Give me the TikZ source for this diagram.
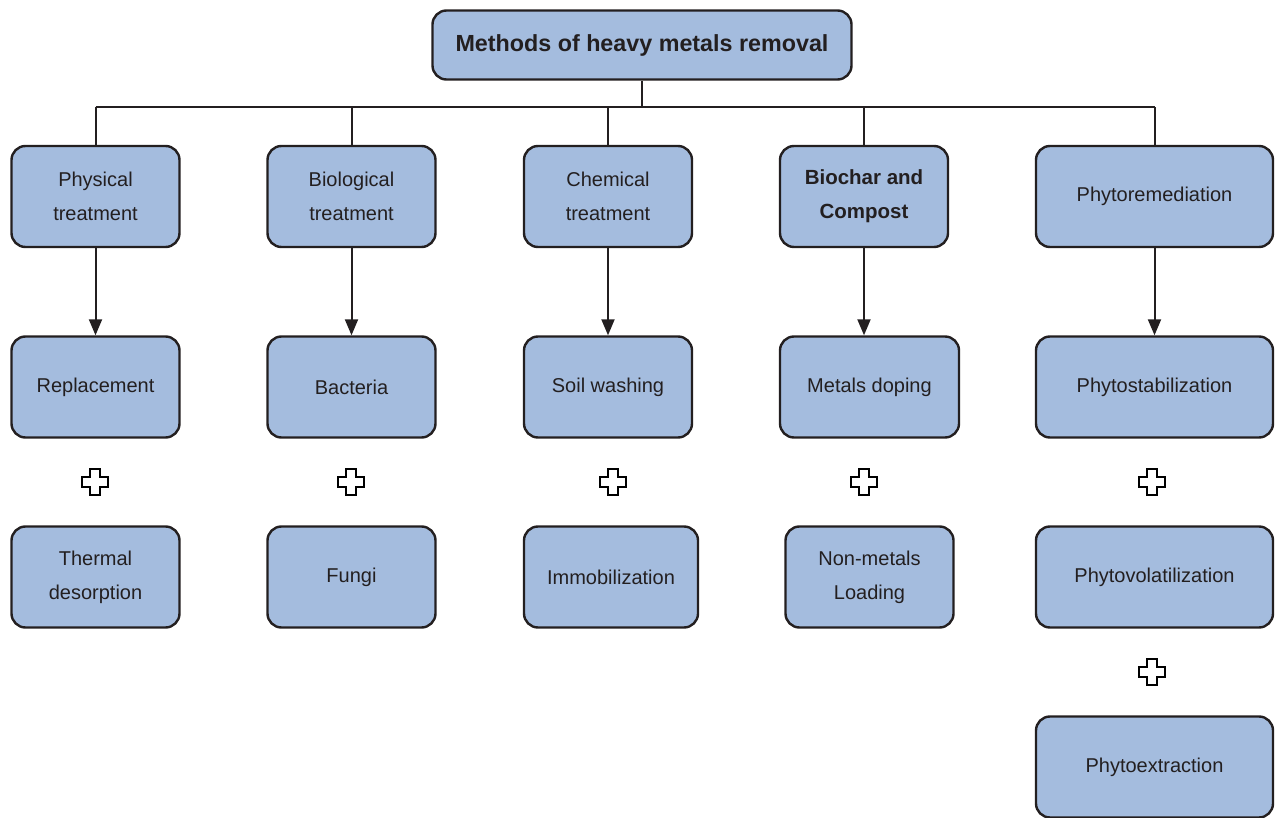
\documentclass[tikz,border=0pt]{standalone}
\usepackage{fontspec}
\setmainfont{Liberation Sans}
\usetikzlibrary{arrows.meta}
\definecolor{boxfill}{RGB}{164,188,222}
\definecolor{inkgray}{RGB}{35,31,32}
\tikzstyle{method} = [draw=inkgray, line width=2.4pt, fill=boxfill,
    rounded corners=14pt, align=center, text=inkgray, inner sep=0pt,
    minimum height=101pt, minimum width=168pt,
    font=\fontsize{20}{34}\selectfont]
\tikzstyle{wide} = [minimum width=237pt]
\tikzstyle{link} = [draw=inkgray, line width=2pt]
\tikzstyle{down} = [link, -{Triangle[length=16pt,width=13pt]}]
\tikzset{plussign/.pic={%
    \filldraw[fill=white, draw=black, line width=2.3pt]
      (-4.7,-13) -- (4.7,-13) -- (4.7,-4.7) -- (13,-4.7) -- (13,4.7)
      -- (4.7,4.7) -- (4.7,13) -- (-4.7,13) -- (-4.7,4.7) -- (-13,4.7)
      -- (-13,-4.7) -- (-4.7,-4.7) -- cycle;}}

\begin{document}
\begin{tikzpicture}[x=1pt, y=-1pt]
    \useasboundingbox (0,0) rectangle (1275,818);
    % Root
    \node[method, minimum width=419pt, minimum height=69pt,
        font=\fontsize{23.3}{34}\selectfont\bfseries] (root) at (642,45)
        {Methods of heavy metals removal};
    % First level
    \node[method] (phys) at (95.5,196.5) {Physical\\treatment};
    \node[method] (bio) at (351.5,196.5) {Biological\\treatment};
    \node[method] (chem) at (608,196.5) {Chemical\\treatment};
    \node[method, font=\fontsize{20.5}{34}\selectfont\bfseries] (char)
        at (864,196.5) {Biochar and\\Compost};
    \node[method, wide] (phyto) at (1154.5,196.5) {Phytoremediation};
    % Second level
    \node[method] (repl) at (95.5,387) {Replacement};
    \node[method] (bact) at (351.5,387) {Bacteria};
    \node[method] (wash) at (608,387) {Soil washing};
    \node[method, minimum width=179pt] (dope) at (869.5,387) {Metals doping};
    \node[method, wide] (stab) at (1154.5,387) {Phytostabilization};
    % Third level
    \node[method] (therm) at (95.5,577) {Thermal\\desorption};
    \node[method] (fungi) at (351.5,577) {Fungi};
    \node[method, minimum width=174pt] (immo) at (611,577) {Immobilization};
    \node[method] (load) at (869.5,577) {Non-metals\\Loading};
    \node[method, wide] (vola) at (1154.5,577) {Phytovolatilization};
    % Fourth level
    \node[method, wide] (extr) at (1154.5,767) {Phytoextraction};

    % Tree lines
    \coordinate (bus) at (642,107);
    \draw[link] (root.south) -- (bus);
    \draw[link] (phys.north |- bus) -- (phyto.north |- bus);
    \foreach \n in {phys,bio,chem,char,phyto}
        \draw[link] (\n.north) -- (\n.north |- bus);
    % Arrows
    \draw[down] (phys) -- (repl);
    \draw[down] (bio) -- (bact);
    \draw[down] (chem) -- (wash);
    \draw[down] (char.south) -- (char.south |- dope.north);
    \draw[down] (phyto) -- (stab);
    % Plus signs
    \pic at (95,482) {plussign};
    \pic at (351,482) {plussign};
    \pic at (613,482) {plussign};
    \pic at (864,482) {plussign};
    \pic at (1152,482) {plussign};
    \pic at (1152,672) {plussign};
\end{tikzpicture}
\end{document}
